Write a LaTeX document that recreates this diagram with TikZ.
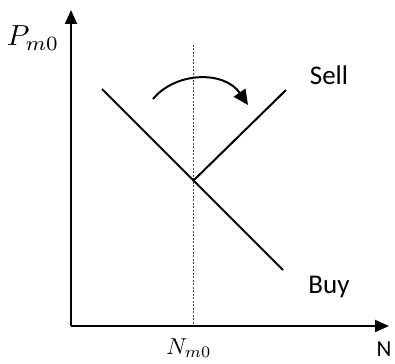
\documentclass[tikz,border=0pt]{standalone}
\usepackage{fontspec}
\newfontfamily\carl{Carlito}
\usetikzlibrary{arrows.meta}
\begin{document}
\begin{tikzpicture}[x=1pt,y=-1pt,
  axis/.style={line width=2pt,-{Triangle[length=14pt,width=12pt]}},
  curve/.style={line width=2pt},
  guide/.style={line width=0.9pt,dash pattern=on 2pt off 1.5pt,gray!60!black},
  lab/.style={inner sep=0pt,font=\carl\fontsize{27}{30}\selectfont},
  mlab/.style={inner sep=0pt}]
\useasboundingbox (0,0) rectangle (395,363);
\coordinate (O) at (71,326);
\coordinate (Ytop) at (71,10);
\coordinate (Xend) at (389,326);
\coordinate (Gtop) at (193,45);
\coordinate (Gbot) at (193,326);
\coordinate (B1) at (102,89);
\coordinate (B2) at (283,270);
\coordinate (S1) at (193,181);
\coordinate (S2) at (286,90);
\coordinate (A1) at (153,99);
\coordinate (A2) at (248,105);
\draw[guide] (Gtop) -- (Gbot);
\draw[axis] (O) -- (Ytop);
\draw[axis] (O) -- (Xend);
\draw[curve] (B1) -- (B2);
\draw[curve] (S1) -- (S2);
\draw[curve,-{Triangle[length=15pt,width=14pt]}] (A1) .. controls (175,72) and (224,70) .. (A2);
\node[mlab,scale=2.9] (P) at (33,38) {$P_{m0}$};
\node[mlab,scale=2.3] (Nm) at (189,348) {$N_{m0}$};
\node[lab] (sell) at (329,75) {Sell};
\node[lab] (buy) at (329,287) {Buy};
\node[lab,font=\carl\fontsize{23}{26}\selectfont] (N) at (384,349) {N};
\end{tikzpicture}
\end{document}
